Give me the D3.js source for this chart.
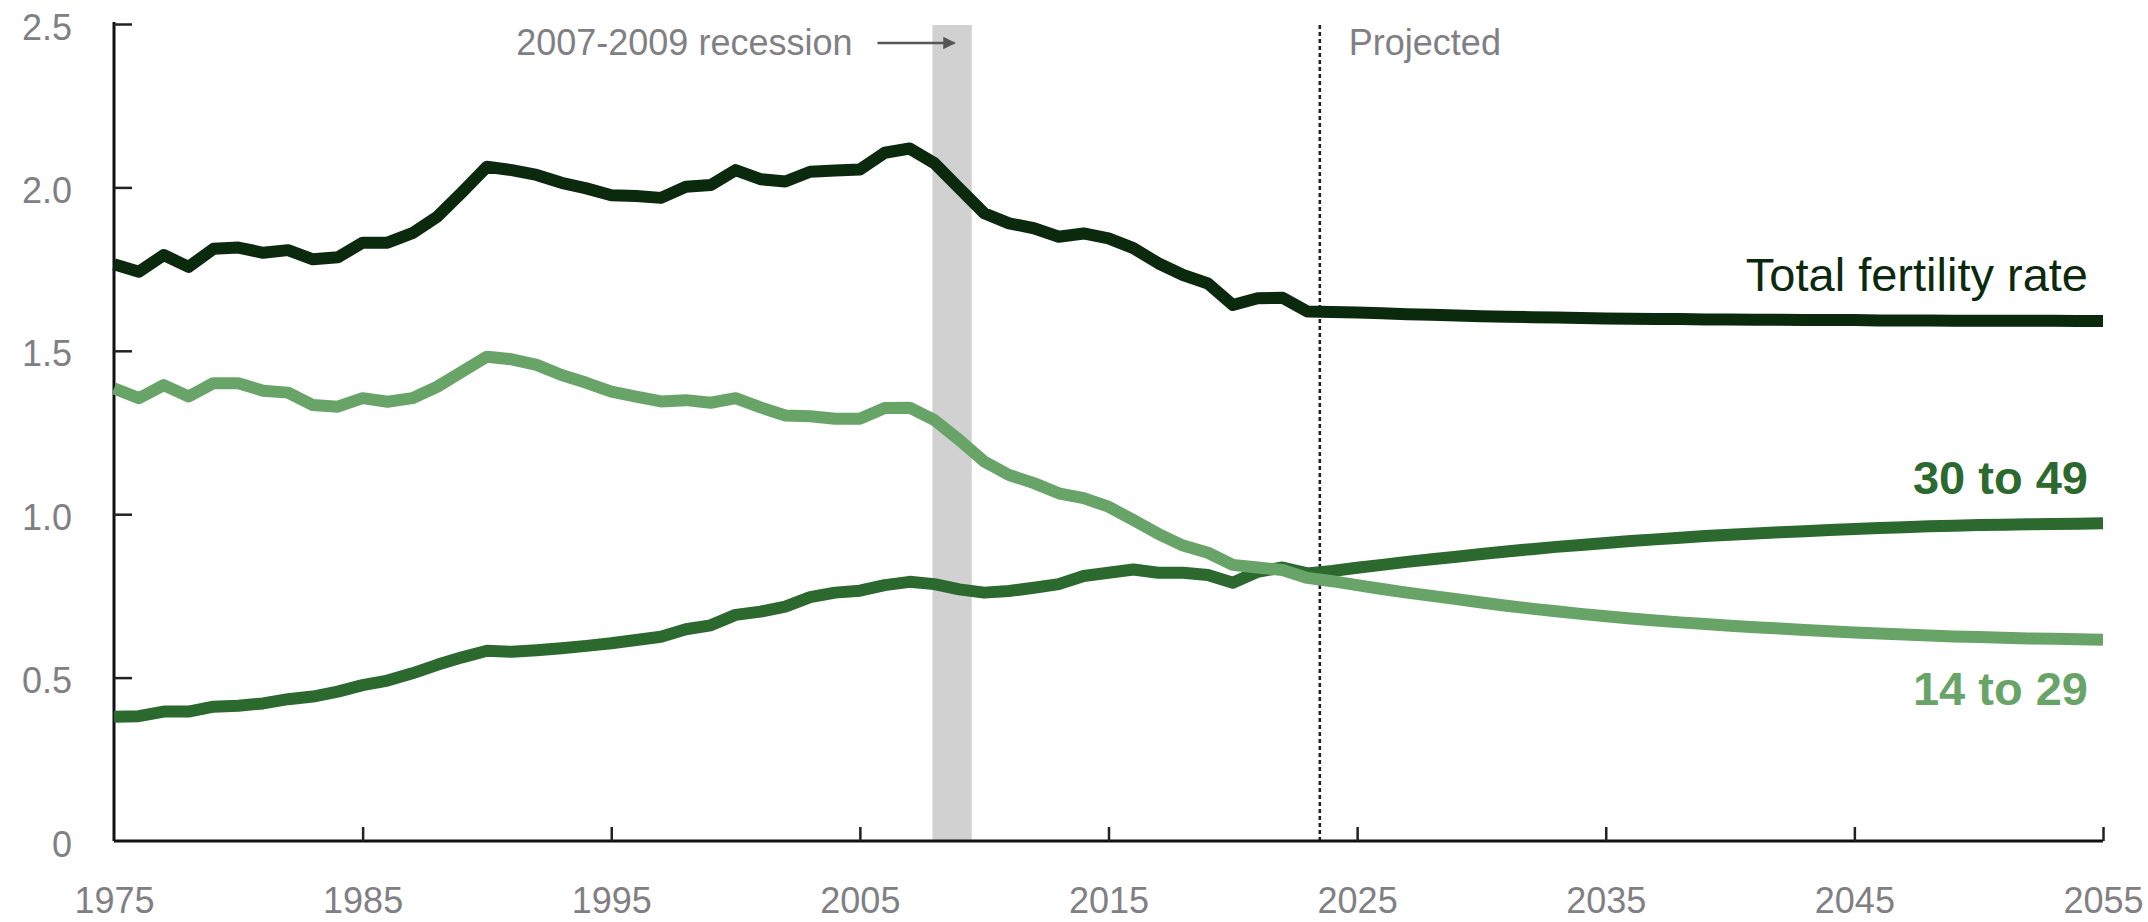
<!DOCTYPE html>
<html>
<head>
<meta charset="utf-8">
<script src="https://cdn.jsdelivr.net/npm/d3@7"></script>
<style>
  body { margin: 0; background: #fff; }
  svg { display: block; font-family: "Liberation Sans", Arial, sans-serif; }
</style>
</head>
<body>
<svg id="chart" width="2148" height="922"></svg>
<script>
// years on the x axis, 1975-2023 observed, 2024-2055 projected
var years = d3.range(1975, 2056);

var total_rate = [
  1.765, 1.742, 1.793, 1.757, 1.812, 1.816, 1.800, 1.808, 1.780, 1.786,
  1.831, 1.831, 1.860, 1.910, 1.985, 2.063, 2.053, 2.038, 2.014, 1.997,
  1.976, 1.974, 1.968, 2.002, 2.007, 2.053, 2.025, 2.018, 2.048, 2.052,
  2.055, 2.106, 2.119, 2.074, 1.997, 1.921, 1.890, 1.875, 1.849, 1.859,
  1.844, 1.814, 1.768, 1.732, 1.706, 1.640, 1.661, 1.662, 1.620,
  1.619, 1.617, 1.615, 1.612, 1.610, 1.608, 1.606, 1.604, 1.603, 1.602,
  1.600, 1.599, 1.598, 1.597, 1.597, 1.596, 1.596, 1.595, 1.595, 1.594,
  1.594, 1.594, 1.593, 1.593, 1.593, 1.592, 1.592, 1.592, 1.592, 1.592,
  1.591, 1.591
];

var age_14_29 = [
  1.385, 1.355, 1.395, 1.360, 1.401, 1.401, 1.378, 1.372, 1.334, 1.329,
  1.355, 1.344, 1.355, 1.390, 1.436, 1.482, 1.474, 1.457, 1.426, 1.402,
  1.375, 1.360, 1.345, 1.349, 1.341, 1.355, 1.327, 1.302, 1.300, 1.292,
  1.292, 1.325, 1.326, 1.288, 1.227, 1.161, 1.120, 1.095, 1.064, 1.049,
  1.023, 0.982, 0.940, 0.904, 0.882, 0.845, 0.837, 0.829, 0.805,
  0.795, 0.783, 0.771, 0.760, 0.750, 0.740, 0.730, 0.720, 0.711, 0.703,
  0.695, 0.688, 0.681, 0.675, 0.669, 0.664, 0.659, 0.654, 0.650, 0.646,
  0.642, 0.638, 0.635, 0.632, 0.629, 0.626, 0.624, 0.622, 0.620, 0.619,
  0.617, 0.616
];

var age_30_49 = [
  0.380, 0.382, 0.396, 0.396, 0.411, 0.414, 0.421, 0.434, 0.442, 0.457,
  0.477, 0.491, 0.513, 0.539, 0.562, 0.582, 0.579, 0.584, 0.590, 0.597,
  0.605, 0.615, 0.625, 0.648, 0.660, 0.692, 0.702, 0.717, 0.746, 0.760,
  0.766, 0.783, 0.793, 0.786, 0.770, 0.760, 0.765, 0.775, 0.786, 0.811,
  0.821, 0.831, 0.821, 0.821, 0.814, 0.790, 0.824, 0.837, 0.819,
  0.826, 0.836, 0.845, 0.854, 0.862, 0.870, 0.878, 0.886, 0.893, 0.900,
  0.906, 0.912, 0.918, 0.923, 0.928, 0.933, 0.937, 0.941, 0.945, 0.948,
  0.952, 0.955, 0.958, 0.960, 0.963, 0.965, 0.967, 0.968, 0.969, 0.970,
  0.971, 0.972
];

var x_ticks = [1975, 1985, 1995, 2005, 2015, 2025, 2035, 2045, 2055];
var y_ticks = [0, 0.5, 1.0, 1.5, 2.0, 2.5];
var recession = [2007.92, 2009.5];
var projection_start = 2023.5;

var svg = d3.select("#chart"),
    margin = {top: 24, left: 114, right: 45, bottom: 81},
    width = 2148 - margin.left - margin.right,
    height = 922 - margin.top - margin.bottom,
    g = svg.append("g").attr("transform", "translate(" + margin.left + "," + margin.top + ")");

var x = d3.scaleLinear().domain([1975, 2055]).range([0, width]);
var y = d3.scaleLinear().domain([0, 2.5]).range([height, 0]);

var grey_text = "#808084";

// recession band
g.append("rect")
    .attr("x", x(recession[0]))
    .attr("y", 1)
    .attr("width", x(recession[1]) - x(recession[0]))
    .attr("height", height - 1)
    .attr("fill", "#d1d1d1");

// projection marker
g.append("line")
    .attr("x1", x(projection_start)).attr("x2", x(projection_start))
    .attr("y1", 1).attr("y2", height)
    .attr("stroke", "#222")
    .attr("stroke-width", 2.6)
    .attr("stroke-dasharray", "4,3");

// axes
var yAxis = g.append("g")
    .call(d3.axisLeft(y).tickValues(y_ticks).tickSize(-18).tickPadding(42)
        .tickFormat(function (d) { return d === 0 ? "0" : d3.format(".1f")(d); }));

var xAxis = g.append("g")
    .attr("transform", "translate(0," + height + ")")
    .call(d3.axisBottom(x).tickValues(x_ticks).tickSize(-14).tickPadding(46)
        .tickFormat(d3.format("d")));

[yAxis, xAxis].forEach(function (a) {
    a.select(".domain").attr("stroke", "#111").attr("stroke-width", 3);
    a.selectAll(".tick line").attr("stroke", "#222").attr("stroke-width", 2.5);
    a.selectAll(".tick text")
        .attr("fill", grey_text)
        .style("font-size", "36px");
});
yAxis.selectAll(".tick text").attr("dy", "0.42em");
xAxis.selectAll(".tick").filter(function (d) { return d === 1975; }).select("line").remove();
yAxis.selectAll(".tick").filter(function (d) { return d === 0; }).select("line").remove();
yAxis.select(".domain").attr("d", "M0," + (-2) + "V" + height);
xAxis.select(".domain").attr("d", "M0,0H" + width);

// lines
var series = [
    {name: "30 to 49", values: age_30_49, color: "#2b692e"},
    {name: "14 to 29", values: age_14_29, color: "#68a468"},
    {name: "Total fertility rate", values: total_rate, color: "#0b2a0d"}
];

var line = d3.line()
    .x(function (d, i) { return x(years[i]); })
    .y(function (d) { return y(d); });

g.selectAll(".series")
    .data(series)
    .enter()
    .append("path")
    .attr("class", "series")
    .attr("d", function (d) { return line(d.values); })
    .attr("fill", "none")
    .attr("stroke", function (d) { return d.color; })
    .attr("stroke-width", 12)
    .attr("stroke-linejoin", "round");

// annotations
g.append("text")
    .attr("x", x(recession[0]) - 80)
    .attr("y", 31)
    .attr("text-anchor", "end")
    .attr("fill", grey_text)
    .style("font-size", "36px")
    .text("2007-2009 recession");

svg.append("defs").append("marker")
    .attr("id", "arrow")
    .attr("viewBox", "0 0 10 10")
    .attr("refX", 9).attr("refY", 5)
    .attr("markerWidth", 5).attr("markerHeight", 5)
    .attr("orient", "auto")
    .append("path")
    .attr("d", "M0,0L10,5L0,10z")
    .attr("fill", "#555");

g.append("line")
    .attr("x1", x(recession[0]) - 55).attr("x2", x(recession[0]) + 22)
    .attr("y1", 19).attr("y2", 19)
    .attr("stroke", "#555")
    .attr("stroke-width", 2.5)
    .attr("marker-end", "url(#arrow)");

g.append("text")
    .attr("x", x(projection_start) + 29)
    .attr("y", 31)
    .attr("fill", grey_text)
    .style("font-size", "36px")
    .text("Projected");

var labels = [
    {text: "Total fertility rate", y: 267, weight: "normal", color: "#0b2a0d"},
    {text: "30 to 49", y: 470, weight: "bold", color: "#2b692e"},
    {text: "14 to 29", y: 681, weight: "bold", color: "#68a468"}
];

g.selectAll(".series-label")
    .data(labels)
    .enter()
    .append("text")
    .attr("class", "series-label")
    .attr("x", width - 15)
    .attr("y", function (d) { return d.y; })
    .attr("text-anchor", "end")
    .attr("fill", function (d) { return d.color; })
    .style("font-size", "47px")
    .style("font-weight", function (d) { return d.weight; })
    .text(function (d) { return d.text; });
</script>
</body>
</html>
